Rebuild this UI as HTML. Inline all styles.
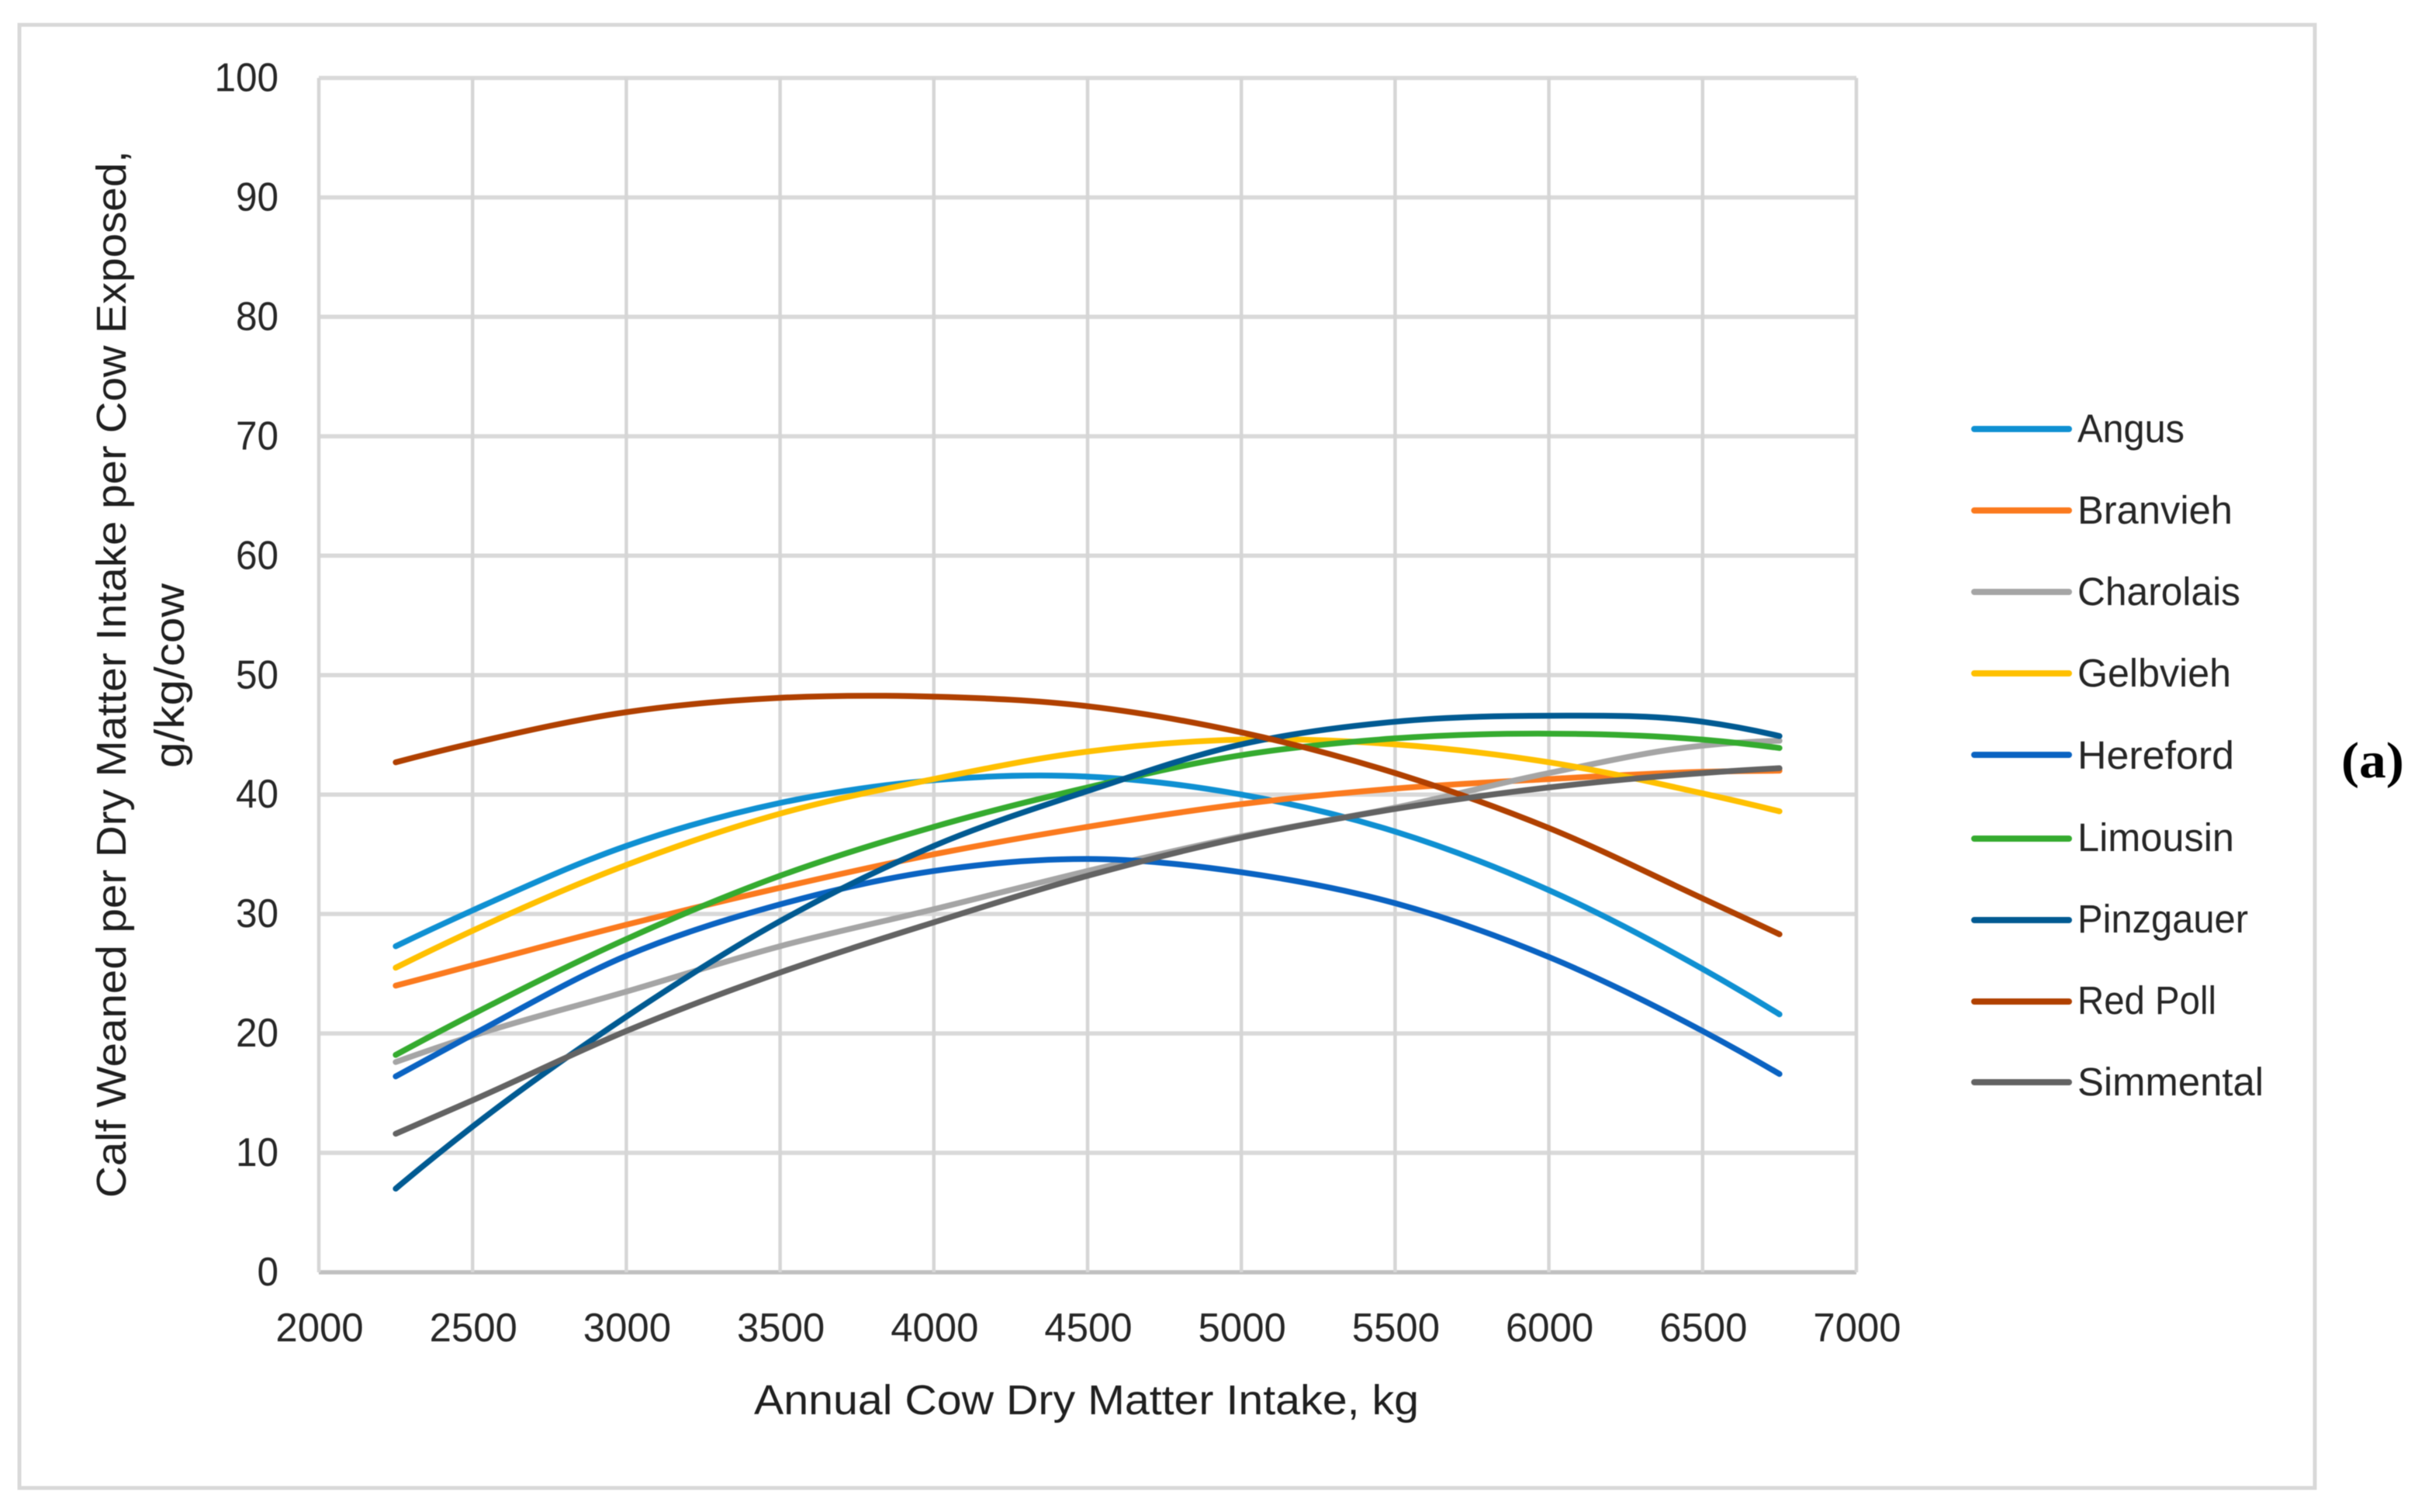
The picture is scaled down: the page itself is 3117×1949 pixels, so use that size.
<!DOCTYPE html>
<html lang="en">
<head>
<meta charset="utf-8">
<title>Calf Weaned per Dry Matter Intake by Breed</title>
<style>
  html, body { margin: 0; padding: 0; background: #ffffff; }
  #chart { display: block; width: 3117px; height: 1949px; font-family: "Liberation Sans", sans-serif; filter: blur(0.6px); }
  .tick { font-size: 52px; fill: #262626; }
  .title { font-size: 54px; fill: #1f1f1f; }
  .legend-text { font-size: 51px; fill: #262626; }
  .legend-line { stroke-width: 8; stroke-linecap: round; }
</style>
</head>
<body>
<svg id="chart" xmlns="http://www.w3.org/2000/svg" width="3117" height="1949" viewBox="0 0 3117 1949">
  <rect x="25" y="32" width="2959" height="1886" fill="#ffffff" stroke="#d9d9d9" stroke-width="5"/>
  <g id="grid"></g>
  <g id="x-ticks"></g>
  <g id="y-ticks"></g>
  <g id="series"></g>

  <text class="title" x="972" y="1823" textLength="857" lengthAdjust="spacingAndGlyphs">Annual Cow Dry Matter Intake, kg</text>
  <text class="title" transform="translate(162 1544) rotate(-90)" textLength="1350" lengthAdjust="spacingAndGlyphs">Calf Weaned per Dry Matter Intake per Cow Exposed,</text>
  <text class="title" transform="translate(237 990) rotate(-90)" textLength="238" lengthAdjust="spacingAndGlyphs">g/kg/cow</text>

  <g>
    <g>
      <line class="legend-line" x1="2545" y1="553" x2="2667" y2="553" stroke="#0f90d2"/>
      <text class="legend-text" x="2678" y="570" textLength="138" lengthAdjust="spacingAndGlyphs">Angus</text>
    </g>
    <g>
      <line class="legend-line" x1="2545" y1="658" x2="2667" y2="658" stroke="#fb7a1e"/>
      <text class="legend-text" x="2678" y="675" textLength="200" lengthAdjust="spacingAndGlyphs">Branvieh</text>
    </g>
    <g>
      <line class="legend-line" x1="2545" y1="763" x2="2667" y2="763" stroke="#a5a5a5"/>
      <text class="legend-text" x="2678" y="780" textLength="210" lengthAdjust="spacingAndGlyphs">Charolais</text>
    </g>
    <g>
      <line class="legend-line" x1="2545" y1="868" x2="2667" y2="868" stroke="#ffc000"/>
      <text class="legend-text" x="2678" y="885" textLength="198" lengthAdjust="spacingAndGlyphs">Gelbvieh</text>
    </g>
    <g>
      <line class="legend-line" x1="2545" y1="973" x2="2667" y2="973" stroke="#0a63c2"/>
      <text class="legend-text" x="2678" y="991" textLength="202" lengthAdjust="spacingAndGlyphs">Hereford</text>
    </g>
    <g>
      <line class="legend-line" x1="2545" y1="1081" x2="2667" y2="1081" stroke="#35ab2f"/>
      <text class="legend-text" x="2678" y="1097" textLength="202" lengthAdjust="spacingAndGlyphs">Limousin</text>
    </g>
    <g>
      <line class="legend-line" x1="2545" y1="1186" x2="2667" y2="1186" stroke="#005a92"/>
      <text class="legend-text" x="2678" y="1202" textLength="220" lengthAdjust="spacingAndGlyphs">Pinzgauer</text>
    </g>
    <g>
      <line class="legend-line" x1="2545" y1="1291" x2="2667" y2="1291" stroke="#b04000"/>
      <text class="legend-text" x="2678" y="1307" textLength="179" lengthAdjust="spacingAndGlyphs">Red Poll</text>
    </g>
    <g>
      <line class="legend-line" x1="2545" y1="1395" x2="2667" y2="1395" stroke="#636363"/>
      <text class="legend-text" x="2678" y="1412" textLength="240" lengthAdjust="spacingAndGlyphs">Simmental</text>
    </g>
  </g>

  <text x="3018" y="1002" textLength="81" lengthAdjust="spacingAndGlyphs" style="font-family:'Liberation Serif',serif;font-weight:bold;font-size:66px;fill:#000000;">(a)</text>
</svg>

<script>
// Chart data
const xTickLabels = [2000, 2500, 3000, 3500, 4000, 4500, 5000, 5500, 6000, 6500, 7000];
const yTickLabels = [0, 10, 20, 30, 40, 50, 60, 70, 80, 90, 100];
const intakeKg = [2250, 2500, 3000, 3500, 4000, 4500, 5000, 5500, 6000, 6500, 6750];
const angus     = [27.3, 30.3, 35.7, 39.3, 41.2, 41.5, 40.0, 36.9, 32.0, 25.4, 21.6];
const branvieh  = [24.0, 25.7, 29.1, 32.2, 35.0, 37.3, 39.2, 40.5, 41.3, 41.9, 42.0];
const charolais = [17.6, 19.8, 23.5, 27.3, 30.4, 33.6, 36.5, 38.9, 41.8, 44.1, 44.5];
const gelbvieh  = [25.5, 28.6, 34.1, 38.4, 41.3, 43.6, 44.6, 44.2, 42.7, 40.1, 38.6];
const hereford  = [16.4, 19.9, 26.5, 30.8, 33.6, 34.6, 33.5, 30.9, 26.4, 20.2, 16.6];
const limousin  = [18.2, 21.6, 27.9, 33.2, 37.3, 40.6, 43.3, 44.7, 45.1, 44.6, 43.9];
const pinzgauer = [7.0, 12.2, 21.4, 29.4, 35.7, 40.3, 44.2, 46.1, 46.6, 46.1, 44.9];
const redPoll   = [42.7, 44.3, 46.9, 48.1, 48.2, 47.4, 45.2, 41.8, 37.2, 31.3, 28.3];
const simmental = [11.6, 14.4, 20.2, 25.1, 29.3, 33.2, 36.4, 38.8, 40.6, 41.8, 42.2];
const seriesNames = ['angus', 'branvieh', 'charolais', 'gelbvieh', 'hereford', 'limousin', 'pinzgauer', 'red-poll', 'simmental'];
const seriesValues = [angus, branvieh, charolais, gelbvieh, hereford, limousin, pinzgauer, redPoll, simmental];
const seriesColors = ['#0f90d2', '#fb7a1e', '#a5a5a5', '#ffc000', '#0a63c2', '#35ab2f', '#005a92', '#b04000', '#636363'];

const SVG_NS = 'http://www.w3.org/2000/svg';
const plotLeft = 411, plotRight = 2393, plotTop = 100.5, plotBottom = 1640;
const xMin = 2000, xMax = 7000, yMin = 0, yMax = 100;

function xScale(v) { return plotLeft + (v - xMin) / (xMax - xMin) * (plotRight - plotLeft); }
function yScale(v) { return plotBottom - (v - yMin) / (yMax - yMin) * (plotBottom - plotTop); }

const gridGroup = document.getElementById('grid');
const xTickGroup = document.getElementById('x-ticks');
const yTickGroup = document.getElementById('y-ticks');
const seriesGroup = document.getElementById('series');

yTickLabels.forEach(function (t) {
  const line = document.createElementNS(SVG_NS, 'line');
  
  
  line.setAttribute('x1', plotLeft);
  line.setAttribute('x2', plotRight);
  line.setAttribute('y1', yScale(t));
  line.setAttribute('y2', yScale(t));
  line.setAttribute('stroke', t === yMin ? '#c0c0c0' : '#d9d9d9');
  line.setAttribute('stroke-width', '5.5');
  gridGroup.appendChild(line);

  const label = document.createElementNS(SVG_NS, 'text');
  
  
  label.setAttribute('class', 'tick');
  label.setAttribute('text-anchor', 'end');
  label.setAttribute('x', 359);
  label.setAttribute('y', yScale(t) + 17);
  label.setAttribute('textLength', String(t).length * 27.5);
  label.setAttribute('lengthAdjust', 'spacingAndGlyphs');
  label.textContent = t;
  yTickGroup.appendChild(label);
});

xTickLabels.forEach(function (t) {
  const line = document.createElementNS(SVG_NS, 'line');
  
  
  line.setAttribute('x1', xScale(t));
  line.setAttribute('x2', xScale(t));
  line.setAttribute('y1', plotTop);
  line.setAttribute('y2', plotBottom);
  line.setAttribute('stroke', '#d6d6d6');
  line.setAttribute('stroke-width', '4.5');
  gridGroup.appendChild(line);

  const label = document.createElementNS(SVG_NS, 'text');
  
  
  label.setAttribute('class', 'tick');
  label.setAttribute('text-anchor', 'middle');
  label.setAttribute('x', xScale(t) + 1);
  label.setAttribute('y', 1729);
  label.setAttribute('textLength', String(t).length * 28.3);
  label.setAttribute('lengthAdjust', 'spacingAndGlyphs');
  label.textContent = t;
  xTickGroup.appendChild(label);
});

// Smooth curve through the read values: cubic Hermite with spacing-weighted slopes
function curvePath(xs, ys) {
  const px = xs.map(xScale);
  const py = ys.map(yScale);
  const n = px.length;
  const gap = [];
  const rise = [];
  for (let i = 0; i < n - 1; i++) {
    gap.push(px[i + 1] - px[i]);
    rise.push((py[i + 1] - py[i]) / gap[i]);
  }
  const slope = [];
  for (let i = 0; i < n; i++) {
    if (i === 0) {
      slope.push(((2 * gap[0] + gap[1]) * rise[0] - gap[0] * rise[1]) / (gap[0] + gap[1]));
    } else if (i === n - 1) {
      slope.push(((2 * gap[n - 2] + gap[n - 3]) * rise[n - 2] - gap[n - 2] * rise[n - 3]) / (gap[n - 2] + gap[n - 3]));
    } else {
      slope.push((gap[i] * rise[i - 1] + gap[i - 1] * rise[i]) / (gap[i - 1] + gap[i]));
    }
  }
  let d = 'M' + px[0].toFixed(1) + ' ' + py[0].toFixed(1);
  for (let i = 0; i < n - 1; i++) {
    const h = gap[i] / 3;
    d += ' C' + (px[i] + h).toFixed(1) + ' ' + (py[i] + slope[i] * h).toFixed(1) +
         ' ' + (px[i + 1] - h).toFixed(1) + ' ' + (py[i + 1] - slope[i + 1] * h).toFixed(1) +
         ' ' + px[i + 1].toFixed(1) + ' ' + py[i + 1].toFixed(1);
  }
  return d;
}

seriesValues.forEach(function (values, i) {
  const path = document.createElementNS(SVG_NS, 'path');
  
  
  path.setAttribute('d', curvePath(intakeKg, values));
  path.setAttribute('fill', 'none');
  path.setAttribute('stroke', seriesColors[i]);
  path.setAttribute('stroke-width', '7.5');
  path.setAttribute('stroke-linecap', 'round');
  path.setAttribute('stroke-linejoin', 'round');
  seriesGroup.appendChild(path);
});
</script>
</body>
</html>
